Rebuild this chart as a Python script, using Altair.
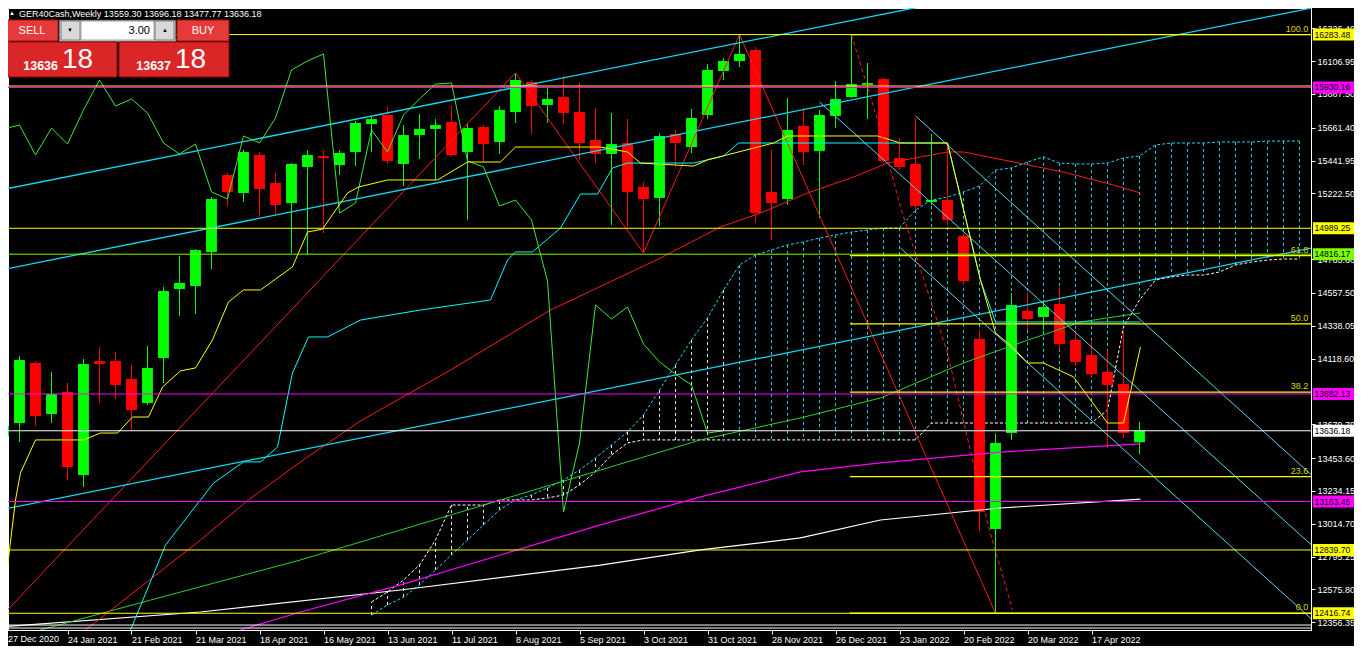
import altair as alt
import pandas as pd

# ---------------- values ----------------
date_labels = ["27 Dec 2020", "24 Jan 2021", "21 Feb 2021", "21 Mar 2021", "18 Apr 2021",
               "16 May 2021", "13 Jun 2021", "11 Jul 2021", "8 Aug 2021", "5 Sep 2021",
               "3 Oct 2021", "31 Oct 2021", "28 Nov 2021", "26 Dec 2021", "23 Jan 2022",
               "20 Feb 2022", "20 Mar 2022", "17 Apr 2022"]

opens = [13601, 13688, 14089, 13748, 13895, 13341, 14102, 14102, 13982, 13822,
         14122, 14583, 14603, 14831, 15345, 15225, 15479, 15292, 15158, 15399,
         15472, 15412, 15499, 15686, 15746, 15419, 15612, 15653, 15699, 15499,
         15666, 15566, 15766, 15967, 15813, 15866, 15766, 15579, 15486, 15559,
         15265, 15192, 15619, 15532, 15746, 16040, 16107, 16180, 15232, 15185,
         15673, 15506, 15740, 15866, 15947, 15987, 15459, 15419, 15165, 15178,
         14938, 14249, 12980, 13621, 14436, 14396, 14483, 14243, 14142, 14029,
         13949, 13559.30]
highs = [13909, 14136, 14102, 14029, 13955, 14116, 14196, 14162, 14076, 14203,
         14597, 14804, 14850, 15198, 15359, 15512, 15499, 15359, 15425, 15512,
         15512, 15512, 15706, 15733, 15806, 15679, 15753, 15719, 15813, 15686,
         15679, 15806, 16027, 15980, 15927, 16007, 15960, 15793, 15760, 15719,
         15299, 15625, 15646, 15786, 16087, 16127, 16283.48, 16200, 15512, 15860,
         15793, 15780, 15973, 16281, 16094, 15993, 15592, 15726, 15619, 15559,
         14958, 14310, 13620, 14557, 14563, 14510, 14597, 14310, 14243, 14176,
         14310, 13696.18]
lows = [13590, 13561, 13668, 13688, 13307, 13260, 13822, 13848, 13635, 13808,
        13955, 14403, 14416, 14717, 15138, 15165, 15065, 15078, 14824, 14817,
        14958, 15345, 15405, 15499, 15419, 15272, 15452, 15312, 15470, 15045,
        15432, 15486, 15693, 15619, 15693, 15686, 15446, 15425, 15011, 14998,
        14824, 15004, 15399, 15492, 15719, 15980, 16067, 15025, 14911, 15145,
        15412, 15058, 15659, 15860, 15719, 15432, 15379, 15111, 15145, 15011,
        14610, 12966, 12416.74, 13574, 14310, 14310, 14176, 14076, 13989, 13521,
        13588, 13477.77]
closes = [13668, 14109, 13735, 13882, 13394, 14082, 14082, 13942, 13775, 14056,
          14570, 14624, 14844, 15185, 15232, 15499, 15252, 15145, 15419, 15479,
          15459, 15492, 15693, 15719, 15439, 15612, 15653, 15679, 15479, 15659,
          15552, 15780, 15980, 15806, 15853, 15760, 15559, 15486, 15552, 15232,
          15185, 15606, 15559, 15726, 16047, 16107, 16154, 15091, 15158, 15646,
          15499, 15746, 15853, 15953, 15960, 15439, 15399, 15138, 15178, 15045,
          14637, 13093, 13554, 14477, 14383, 14463, 14216, 14096, 14015, 13942,
          13621, 13636.18]

price_ticks = [16326.40, 16106.95, 15887.50, 15661.40, 15441.95, 15222.50, 14783.60,
               14557.50, 14338.05, 14118.60, 13679.70, 13453.60, 13234.15, 13014.70,
               12795.25, 12575.80, 12356.35]

level_prices = [16283.48, 15940.0, 15930.16, 14989.25, 14816.17, 13882.13, 13636.18,
                13163.45, 12839.70, 12416.74, 12338.0, 12318.0]
level_colors = ["#FFFF00", "#FFFF00", "#FF00FF", "#FFFF00", "#7CFC00", "#FF00FF", "#FFFFFF",
                "#FF00FF", "#FFFF00", "#FFFF00", "#FFFFFF", "#FFFFFF"]

tag_prices = [16283.48, 15930.16, 14989.25, 14816.17, 13882.13, 13636.18, 13163.45,
              12839.70, 12416.74]
tag_colors = ["#FFFF00", "#FF00FF", "#FFFF00", "#7CFC00", "#FF00FF", "#FFFFFF", "#FF00FF",
              "#FFFF00", "#FFFF00"]

fib_names = ["100.0", "61.8", "50.0", "38.2", "23.6", "0.0"]
fib_prices = [16283.48, 14806.39, 14350.11, 13893.83, 13329.29, 12416.74]
fib_from = 52.9

cloud_first = 23
span_a = [12405, 12472, 12525, 12606, 12706, 12806, 12906, 13007, 13107, 13174, 13207,
          13254, 13307, 13374, 13454, 13541, 13628, 13742, 13909, 14076, 14243, 14390,
          14577, 14744, 14811, 14844, 14878, 14898, 14924, 14944, 14964, 14978, 14991,
          14991, 15111, 15178, 15198, 15232, 15272, 15379, 15392, 15432, 15466, 15425,
          15419, 15419, 15425, 15459, 15472, 15546, 15559, 15559, 15559, 15566, 15566,
          15566, 15572, 15572, 15572]
span_b = [12492, 12559, 12639, 12739, 12906, 13140, 13140, 13140, 13174, 13174, 13174,
          13187, 13207, 13274, 13361, 13474, 13555, 13575, 13575, 13575, 13575, 13575,
          13575, 13575, 13575, 13575, 13575, 13575, 13575, 13575, 13575, 13575, 13575,
          13575, 13575, 13688, 13688, 13688, 13688, 13688, 13688, 13688, 13688, 13688,
          13688, 13688, 13775, 14330, 14510, 14644, 14664, 14677, 14677, 14697, 14744,
          14764, 14777, 14784, 14784]

tenkan_i = [0, 0.75, 1.06, 2, 5, 6.06, 7.13, 8.06, 9.06, 9.94, 11.06, 12, 13.06, 14.06, 15,
            16.06, 18.06, 19, 19.94, 20.63, 21.5, 22.19, 24, 27.13, 29, 31.06, 32, 37.31, 39,
            39.81, 43.13, 44, 48.13, 49, 54.63, 56.06, 59, 61.06, 62, 63.06, 64, 65, 66.88,
            69, 70, 71.06]
tenkan_p = [12505, 13174, 13354, 13575, 13575, 13621, 13621, 13728, 13728, 13929, 14036,
            14056, 14243, 14497, 14577, 14577, 14731, 14964, 14984, 15091, 15225, 15265,
            15312, 15312, 15432, 15432, 15532, 15532, 15499, 15425, 15405, 15446, 15559,
            15606, 15606, 15559, 15559, 14644, 14290, 14196, 14089, 14089, 13996, 13688,
            13688, 14196]

kijun_i = [7.94, 10.13, 12.31, 13.13, 15, 16.06, 17.13, 18.06, 19.06, 20.25, 22.31, 26.06,
           30.44, 31.5, 32, 33.06, 34.81, 36.06, 37.13, 38.06, 39, 43.13, 45, 45.94, 59,
           61.06, 62, 71.06]
kijun_p = [12305, 12873, 13174, 13287, 13428, 13428, 13528, 14022, 14263, 14263, 14376,
           14443, 14510, 14777, 14831, 14831, 14991, 15218, 15218, 15392, 15425, 15425,
           15472, 15559, 15559, 14644, 14363, 14363]

ma_red_i = [5.13, 12.31, 15.31, 18.56, 22.31, 27.94, 34.19, 40.94, 44.81, 47.31, 50.25,
            53.13, 55.25, 59, 60, 63.13, 66.25, 69.38, 71.06]
ma_red_p = [12305, 12906, 13174, 13428, 13702, 14042, 14443, 14784, 14998, 15091, 15225,
            15332, 15425, 15499, 15499, 15432, 15365, 15278, 15225]
ma_green_i = [2.31, 9.19, 18.56, 27.94, 37.31, 43.56, 49.81, 54.81, 60, 63.13, 67.31, 71.06]
ma_green_p = [12305, 12505, 12773, 13073, 13374, 13575, 13722, 13855, 14089, 14209, 14363, 14423]
ma_mag_i = [14.81, 18.56, 24.81, 31.06, 37.31, 43.56, 49.81, 54.81, 62.31, 71.06]
ma_mag_p = [12305, 12425, 12606, 12806, 13007, 13194, 13361, 13421, 13494, 13548]
ma_white_i = [-0.19, 12.31, 24.81, 37.31, 43.56, 49.81, 54.81, 62.31, 71.06]
ma_white_p = [12325, 12425, 12572, 12739, 12840, 12920, 13040, 13120, 13180]

zigzag_i = [-1, 32, 40, 46, 62]
zigzag_p = [12298, 16027, 14824, 16283.48, 12416.74]
zigzag2_i = [53, 54.63, 56.06, 59, 61.5, 63.06]
zigzag2_p = [16281, 15713, 15131, 14156, 13020, 12439]

chan_i = [-0.19, 81.75]
chan_top_p = [15245, 16990]
chan_mid_p = [14710, 16461]
chan_low_p = [13107, 14857]
down1_i, down1_p = [51, 81.75], [15833, 12873]
down2_i, down2_p = [57, 81.75], [15740, 13341]
down3_i, down3_p = [56.06, 81.75], [14857, 12378]

header_text = "GER40Cash,Weekly  13559.30 13696.18 13477.77 13636.18"

# ---------------- scales / axes ----------------
FONT = "Liberation Sans"
X0, X1 = 0.28125, 81.71875
Y0, Y1 = 12304.9, 16461.1
PX = (Y1 - Y0) / 622.0          # price per pixel
xscale = alt.Scale(domain=[X0, X1], nice=False, zero=False)
yscale = alt.Scale(domain=[Y0, Y1], nice=False, zero=False)
label_js = "[" + ",".join("'" + s + "'" for s in date_labels) + "][round(datum.value/4)]"
xaxis = alt.Axis(values=[4 * k for k in range(len(date_labels))], labelExpr=label_js,
                 orient="bottom", title=None, grid=False, labelAlign="left",
                 labelBaseline="top", labelPadding=1, tickSize=4, labelFlush=False,
                 labelOverlap=False, labelBound=False, labelColor="white", tickColor="white",
                 domainColor="white", labelFont=FONT, labelFontSize=9)
yaxis = alt.Axis(values=price_ticks, format=".2f", orient="right", title=None, grid=False,
                 tickSize=4, labelPadding=2, labelOverlap=False, labelFlush=False,
                 labelBound=False, labelColor="white", tickColor="white", domainColor="white",
                 labelFont=FONT, labelFontSize=9)


def X(f):
    return alt.X(f + ":Q", scale=xscale, axis=xaxis)


def Y(f):
    return alt.Y(f + ":Q", scale=yscale, axis=yaxis)


# ---------------- tables ----------------
n = len(closes)
cd = pd.DataFrame({"i": list(range(n)), "o": opens, "h": highs, "l": lows, "c": closes})
cd["col"] = ["#00FF00" if c >= o else "#FF0000" for o, c in zip(cd.o, cd.c)]
cd["top"] = cd[["o", "c"]].max(axis=1)
cd["bot"] = cd[["o", "c"]].min(axis=1)
same = (cd.top - cd.bot) < 8
cd.loc[same, "top"] = cd.loc[same, "top"] + 4
cd.loc[same, "bot"] = cd.loc[same, "bot"] - 4
cd["xa"] = cd.i - 0.34
cd["xb"] = cd.i + 0.34

cloud = pd.DataFrame({"i": [cloud_first + k for k in range(len(span_a))], "a": span_a, "b": span_b})
cloud["col"] = ["#E8E8E8" if i < 46 else "#2EC8DC" for i in cloud.i]

chik = pd.DataFrame({"i": list(range(n - 26)), "p": closes[26:]})


def poly(name, xs, ps, color, w):
    return pd.DataFrame({"name": name, "i": xs, "p": ps, "k": list(range(len(xs))),
                         "color": color, "w": w})


lines = pd.concat([
    poly("ma_white", ma_white_i, ma_white_p, "#FFFFFF", 1.2),
    poly("ma_mag", ma_mag_i, ma_mag_p, "#FF00FF", 1.2),
    poly("ma_green", ma_green_i, ma_green_p, "#2ED02E", 1.0),
    poly("ma_red", ma_red_i, ma_red_p, "#FF1A1A", 1.0),
    poly("zigzag", zigzag_i, zigzag_p, "#FF1A1A", 1.0),
    poly("chan_top", chan_i, chan_top_p, "#12DCF2", 1.3),
    poly("chan_mid", chan_i, chan_mid_p, "#12DCF2", 1.3),
    poly("chan_low", chan_i, chan_low_p, "#12DCF2", 1.3),
    poly("down1", down1_i, down1_p, "#5CD6EA", 1.0),
    poly("down2", down2_i, down2_p, "#5CD6EA", 1.0),
    poly("down3", down3_i, down3_p, "#5CD6EA", 1.0),
    poly("kijun", kijun_i, kijun_p, "#00FFFF", 1.0),
    poly("chikou", list(chik.i), list(chik.p), "#3CE83C", 1.0),
    poly("tenkan", tenkan_i, tenkan_p, "#FFFF00", 1.0),
], ignore_index=True)

levels = pd.DataFrame({"p": level_prices, "col": level_colors, "xa": -2.0, "xb": 90.0})
fib = pd.DataFrame({"p": fib_prices, "name": fib_names, "xa": fib_from, "xb": X1,
                    "tx": 81.55})
tags = pd.DataFrame({"p": tag_prices, "col": tag_colors,
                     "lbl": ["%.2f" % v for v in tag_prices]})
tags["lo"] = tags.p - 6 * PX
tags["hi"] = tags.p + 6 * PX
tags["xa"] = 81.84
tags["xb"] = 84.9
tags["tx"] = 81.93
first_lbl = pd.DataFrame({"i": [X0], "p": [Y0 - 5 * PX], "t": [date_labels[0]]})

# ---------------- layers ----------------
hatch = alt.Chart(cloud).mark_rule(clip=True, strokeDash=[3, 3], strokeWidth=1).encode(
    x=X("i"), y=Y("a"), y2="b", color=alt.Color("col:N", scale=None))
edge_a = alt.Chart(cloud).mark_line(clip=True, strokeDash=[3, 2], color="#22D8F0",
                                    strokeWidth=1).encode(x=X("i"), y=Y("a"))
edge_b = alt.Chart(cloud).mark_line(clip=True, strokeDash=[3, 2], color="#FFFFFF",
                                    strokeWidth=1).encode(x=X("i"), y=Y("b"))

wicks = alt.Chart(cd).mark_rule(clip=True, strokeWidth=1).encode(
    x=X("i"), y=Y("l"), y2="h", color=alt.Color("col:N", scale=None))
bodies = alt.Chart(cd).mark_rect(clip=True).encode(
    x=X("xa"), x2="xb", y=Y("bot"), y2="top", color=alt.Color("col:N", scale=None))

hlines = alt.Chart(levels).mark_rule(clip=True, strokeWidth=1).encode(
    x=X("xa"), x2="xb", y=Y("p"), color=alt.Color("col:N", scale=None))
fiblines = alt.Chart(fib).mark_rule(clip=True, strokeWidth=1.3, color="#FFFF00").encode(
    x=X("xa"), x2="xb", y=Y("p"))
fibtext = alt.Chart(fib).mark_text(align="right", baseline="bottom", dy=-1, font=FONT,
                                   fontSize=9, color="#D8D800").encode(
    x=X("tx"), y=Y("p"), text="name:N")

ind = alt.Chart(lines).mark_line(clip=True).encode(
    x=X("i"), y=Y("p"), detail="name:N", order="k:Q",
    color=alt.Color("color:N", scale=None), strokeWidth=alt.StrokeWidth("w:Q", scale=None))
zz2 = alt.Chart(pd.DataFrame({"i": zigzag2_i, "p": zigzag2_p})).mark_line(
    clip=True, strokeDash=[4, 3], color="#FF1A1A", strokeWidth=1).encode(x=X("i"), y=Y("p"))

tag_box = alt.Chart(tags).mark_rect().encode(
    x=X("xa"), x2="xb", y=Y("lo"), y2="hi", color=alt.Color("col:N", scale=None))
tag_txt = alt.Chart(tags).mark_text(align="left", baseline="middle", font=FONT, fontSize=8.6,
                                    color="black").encode(x=X("tx"), y=Y("p"), text="lbl:N")
first_txt = alt.Chart(first_lbl).mark_text(align="left", baseline="top", font=FONT,
                                           fontSize=9, color="white").encode(
    x=X("i"), y=Y("p"), text="t:N")

# ---------------- header and trade panel (screen furniture) ----------------
one = pd.DataFrame({"k": [0]})
furniture = []
panel_boxes = [
    (-2, 12, 50, 33, "#E63A3A", "#9A1010"),
    (51, 12, 168, 34, "#C8C8C8", "#303030"),
    (53, 13, 72, 32, "#D8D8D8", "#808080"),
    (73, 13, 146, 32, "#FFFFFF", "#A0A0A0"),
    (147, 13, 166, 32, "#D8D8D8", "#808080"),
    (169, 12, 221, 33, "#E63A3A", "#9A1010"),
    (-2, 34, 109, 69, "#DA2626", "#8B0A0A"),
    (111, 34, 221, 69, "#DA2626", "#8B0A0A"),
]
for x1, y1, x2, y2, fill, stroke in panel_boxes:
    furniture.append(alt.Chart(one).mark_rect(fill=fill, stroke=stroke, strokeWidth=1).encode(
        x=alt.value(x1), x2=alt.value(x2), y=alt.value(y1), y2=alt.value(y2)))
panel_texts = [
    (24, 23, "SELL", 11, "normal", "center", "middle", "white"),
    (195, 23, "BUY", 11, "normal", "center", "middle", "white"),
    (142, 23, "3.00", 11, "normal", "right", "middle", "black"),
    (62, 22, "▼", 6, "normal", "center", "middle", "black"),
    (157, 22, "▲", 6, "normal", "center", "middle", "black"),
    (50, 62, "13636", 12.5, "bold", "right", "alphabetic", "white"),
    (54, 60, "18", 28, "normal", "left", "alphabetic", "white"),
    (163, 62, "13637", 12.5, "bold", "right", "alphabetic", "white"),
    (167, 60, "18", 28, "normal", "left", "alphabetic", "white"),
    (4, 5, "▲", 6, "normal", "center", "middle", "white"),
    (11, 9, header_text, 9, "normal", "left", "alphabetic", "white"),
]
for x1, y1, txt, size, weight, align, base, col in panel_texts:
    furniture.append(alt.Chart(one).mark_text(
        text=txt, fontSize=size, fontWeight=weight, align=align, baseline=base, color=col,
        font=FONT).encode(x=alt.value(x1), y=alt.value(y1)))

chart = alt.layer(
    hatch, edge_a, edge_b, wicks, bodies, ind, zz2, hlines, fiblines, fibtext,
    tag_box, tag_txt, first_txt, *furniture
).properties(
    width=1303, height=622,
    autosize=alt.AutoSizeParams(type="none"),
    padding={"left": 0, "top": 0, "right": 43, "bottom": 16},
    background="#000000",
).configure_view(stroke="#FFFFFF", strokeWidth=1, fill="#000000")

chart.save("out.html", embed_options={"renderer": "svg", "actions": False})
